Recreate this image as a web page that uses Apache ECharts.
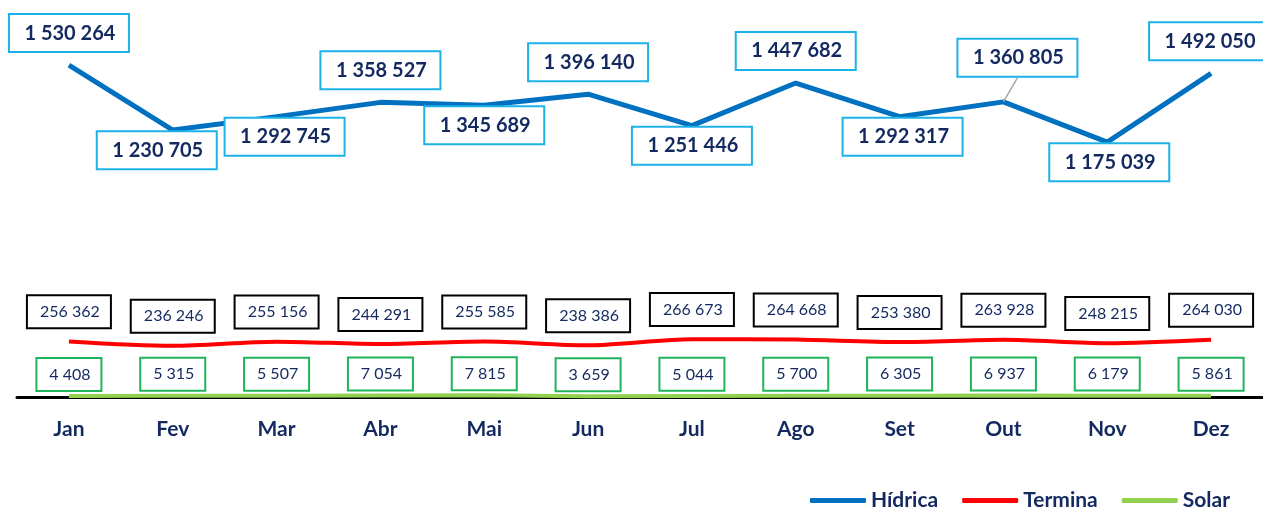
<!DOCTYPE html>
<html>
<head>
<meta charset="utf-8">
<script src="https://cdn.jsdelivr.net/npm/echarts@6/dist/echarts.min.js"></script>
<style>
  html, body { margin: 0; padding: 0; background: #fff; }
  #chart { width: 1263px; height: 508px; }
</style>
</head>
<body>
<div id="chart"></div>
<script>
const months = ['Jan', 'Fev', 'Mar', 'Abr', 'Mai', 'Jun', 'Jul', 'Ago', 'Set', 'Out', 'Nov', 'Dez']
const hidrica = [1530264, 1230705, 1292745, 1358527, 1345689, 1396140, 1251446, 1447682, 1292317, 1360805, 1175039, 1492050]
const termina = [256362, 236246, 255156, 244291, 255585, 238386, 266673, 264668, 253380, 263928, 248215, 264030]
const solar = [4408, 5315, 5507, 7054, 7815, 3659, 5044, 5700, 6305, 6937, 6179, 5861]

// label above or below the Hídrica point, and small sideways nudges
const hidricaSide = ['top', 'bottom', 'bottom', 'top', 'bottom', 'top', 'bottom', 'top', 'bottom', 'top', 'bottom', 'top']
const hidricaNudge = [0, -16, 8, 0, 0, 0, 0, 0, 3, 14, 2, -2]

const navy = '#13295f'
const font = 'Lato, "Open Sans", sans-serif'

const fmt = v => String(v).replace(/\B(?=(\d{3})+(?!\d))/g, ' ')

const chart = echarts.init(document.getElementById('chart'))

const hidricaData = hidrica.map((v, i) => ({
  value: v,
  label: {
    position: hidricaSide[i],
    distance: hidricaSide[i] === 'top' ? 14 : 2
  },
  labelLine: { show: i === 9 }
}))

const option = {
  animation: false,
  grid: { left: 17, right: 0, top: 50, bottom: 111 },
  legend: {
    right: 28,
    top: 485,
    itemWidth: 56,
    itemHeight: 5,
    itemGap: 24,
    icon: 'roundRect',
    textStyle: { color: navy, fontWeight: 'bold', fontSize: 21, fontFamily: font },
    data: ['Hídrica', 'Termina', 'Solar']
  },
  xAxis: {
    type: 'category',
    data: months,
    boundaryGap: true,
    axisLine: { lineStyle: { color: '#000', width: 3 } },
    axisTick: { show: false },
    axisLabel: { color: navy, fontWeight: 'bold', fontSize: 21, fontFamily: font, margin: 22 }
  },
  yAxis: {
    type: 'value',
    min: 0,
    max: 1600000,
    show: false,
    splitLine: { show: false }
  },
  series: [
    {
      name: 'Hídrica',
      type: 'line',
      data: hidricaData,
      symbol: 'circle',
      symbolSize: 0.1,
      showSymbol: true,
      color: '#0070c0',
      lineStyle: { width: 5, color: '#0070c0' },
      label: {
        show: true,
        formatter: p => fmt(p.value),
        color: navy,
        fontWeight: 'bold',
        fontSize: 20,
        fontFamily: font,
        width: 100,
        align: 'center',
        lineHeight: 22,
        padding: [7, 8, 7, 10],
        borderColor: '#1cb2e8',
        borderWidth: 2,
        backgroundColor: '#fff'
      },
      labelLine: { show: false, lineStyle: { color: '#a6a6a6', width: 1.5 } },
      labelLayout: p => ({ dx: hidricaNudge[p.dataIndex], dy: p.dataIndex === 9 ? -12 : 0 }),
      z: 3
    },
    {
      name: 'Termina',
      type: 'line',
      data: termina,
      symbol: 'circle',
      symbolSize: 0.1,
      showSymbol: true,
      smooth: 0.3,
      color: '#ff0000',
      lineStyle: { width: 4, color: '#ff0000' },
      label: {
        show: true,
        position: 'top',
        distance: 14,
        formatter: p => fmt(p.value),
        color: navy,
        fontSize: 16,
        fontFamily: font,
        width: 66,
        align: 'center',
        lineHeight: 19,
        padding: [6, 7, 6, 9],
        borderColor: '#000',
        borderWidth: 2,
        backgroundColor: '#fff'
      },
      z: 2
    },
    {
      name: 'Solar',
      type: 'line',
      data: solar,
      symbol: 'circle',
      symbolSize: 0.1,
      showSymbol: true,
      color: '#92d050',
      lineStyle: { width: 4, color: '#92d050' },
      label: {
        show: true,
        position: 'top',
        distance: 6,
        formatter: p => fmt(p.value),
        color: navy,
        fontSize: 16,
        fontFamily: font,
        width: 47,
        align: 'center',
        lineHeight: 19,
        padding: [6, 7, 6, 9],
        borderColor: '#1fb45a',
        borderWidth: 2,
        backgroundColor: '#fff'
      },
      z: 2
    }
  ]
}

chart.setOption(option)
</script>
</body>
</html>
